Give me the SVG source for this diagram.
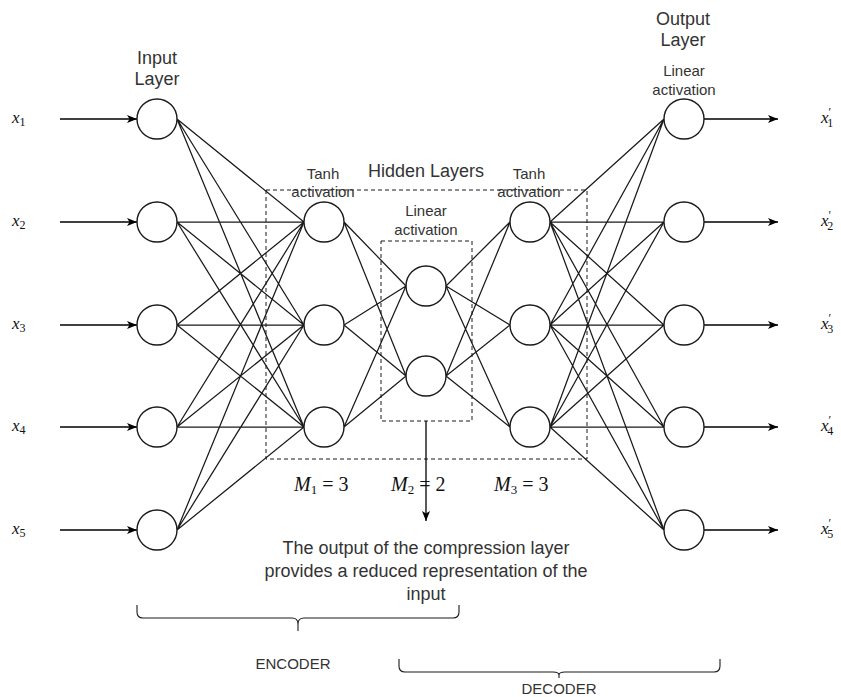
<svg xmlns="http://www.w3.org/2000/svg" width="841" height="697" viewBox="0 0 841 697">
  <style>
    .node { fill: #ffffff; stroke: #1a1a1a; stroke-width: 1.4; }
    .edge { stroke: #1a1a1a; stroke-width: 1.25; fill: none; }
    .io { stroke: #000; stroke-width: 1.3; fill: none; marker-end: url(#arrow); }
    .box { fill: none; stroke: #1a1a1a; stroke-width: 1; stroke-dasharray: 4 3; }
    .brace { fill: none; stroke: #1a1a1a; stroke-width: 1.1; }
    .lbl { font-family: "Liberation Sans", Arial, sans-serif; fill: #333; text-anchor: middle; }
    .big { font-size: 18px; }
    .small { font-size: 15px; }
    .note { font-size: 18px; }
    .part { font-size: 15px; }
    .math { font-family: "Liberation Serif", "Times New Roman", serif; fill: #111; }
    .it { font-style: italic; }
  </style>
  <defs>
    <marker id="arrow" viewBox="0 0 10 8" refX="10" refY="4" markerWidth="10" markerHeight="8" markerUnits="userSpaceOnUse" orient="auto">
      <path d="M0,0 L10,4 L0,8 L2.5,4 Z" fill="#000"/>
    </marker>
  </defs>

  <!-- layer boxes -->
  <g id="hidden-box">
    <rect class="box" x="266" y="190" width="321" height="269"/>
  </g>
  <g id="bottleneck-box">
    <rect class="box" x="381" y="241" width="91" height="180"/>
  </g>

  <!-- connectors -->
  <g id="connectors">
    <!-- inputs -->
    <line class="io" x1="60" y1="119" x2="137" y2="119"/>
    <line class="io" x1="60" y1="222" x2="137" y2="222"/>
    <line class="io" x1="60" y1="325" x2="137" y2="325"/>
    <line class="io" x1="60" y1="427" x2="137" y2="427"/>
    <line class="io" x1="60" y1="530" x2="137" y2="530"/>
    <!-- outputs -->
    <line class="io" x1="704" y1="119" x2="778" y2="119"/>
    <line class="io" x1="704" y1="222" x2="778" y2="222"/>
    <line class="io" x1="704" y1="325" x2="778" y2="325"/>
    <line class="io" x1="704" y1="427" x2="778" y2="427"/>
    <line class="io" x1="704" y1="530" x2="778" y2="530"/>
    <!-- bottleneck output -->
    <line class="io" x1="426" y1="421" x2="426" y2="521"/>

    <!-- input layer to first hidden layer -->
    <path class="edge" d="M177,119 L304,222 M177,119 L304,325 M177,119 L304,427
                          M177,222 L304,222 M177,222 L304,325 M177,222 L304,427
                          M177,325 L304,222 M177,325 L304,325 M177,325 L304,427
                          M177,427 L304,222 M177,427 L304,325 M177,427 L304,427
                          M177,530 L304,222 M177,530 L304,325 M177,530 L304,427"/>
    <!-- first hidden layer to bottleneck -->
    <path class="edge" d="M344,222 L406,286 M344,222 L406,376
                          M344,325 L406,286 M344,325 L406,376
                          M344,427 L406,286 M344,427 L406,376"/>
    <!-- bottleneck to third hidden layer -->
    <path class="edge" d="M446,286 L510,222 M446,286 L510,325 M446,286 L510,427
                          M446,376 L510,222 M446,376 L510,325 M446,376 L510,427"/>
    <!-- third hidden layer to output layer -->
    <path class="edge" d="M550,222 L664,119 M550,222 L664,222 M550,222 L664,325 M550,222 L664,427 M550,222 L664,530
                          M550,325 L664,119 M550,325 L664,222 M550,325 L664,325 M550,325 L664,427 M550,325 L664,530
                          M550,427 L664,119 M550,427 L664,222 M550,427 L664,325 M550,427 L664,427 M550,427 L664,530"/>
  </g>

  <!-- input layer -->
  <g id="in1"><circle class="node" cx="157" cy="119" r="20"/></g>
  <g id="in2"><circle class="node" cx="157" cy="222" r="20"/></g>
  <g id="in3"><circle class="node" cx="157" cy="325" r="20"/></g>
  <g id="in4"><circle class="node" cx="157" cy="427" r="20"/></g>
  <g id="in5"><circle class="node" cx="157" cy="530" r="20"/></g>

  <!-- hidden layer 1 -->
  <g id="h1a"><circle class="node" cx="324" cy="222" r="20"/></g>
  <g id="h1b"><circle class="node" cx="324" cy="325" r="20"/></g>
  <g id="h1c"><circle class="node" cx="324" cy="427" r="20"/></g>

  <!-- bottleneck -->
  <g id="h2a"><circle class="node" cx="426" cy="286" r="20"/></g>
  <g id="h2b"><circle class="node" cx="426" cy="376" r="20"/></g>

  <!-- hidden layer 3 -->
  <g id="h3a"><circle class="node" cx="530" cy="222" r="20"/></g>
  <g id="h3b"><circle class="node" cx="530" cy="325" r="20"/></g>
  <g id="h3c"><circle class="node" cx="530" cy="427" r="20"/></g>

  <!-- output layer -->
  <g id="out1"><circle class="node" cx="684" cy="119" r="20"/></g>
  <g id="out2"><circle class="node" cx="684" cy="222" r="20"/></g>
  <g id="out3"><circle class="node" cx="684" cy="325" r="20"/></g>
  <g id="out4"><circle class="node" cx="684" cy="427" r="20"/></g>
  <g id="out5"><circle class="node" cx="684" cy="530" r="20"/></g>

  <!-- layer titles -->
  <g id="labels">
    <text class="lbl big" x="157" y="64">Input</text>
    <text class="lbl big" x="157" y="85">Layer</text>
    <text class="lbl big" x="683" y="25">Output</text>
    <text class="lbl big" x="683" y="46">Layer</text>
    <text class="lbl small" x="684" y="76">Linear</text>
    <text class="lbl small" x="684" y="95">activation</text>
    <text class="lbl big" x="426" y="177">Hidden Layers</text>
    <text class="lbl small" x="323" y="179">Tanh</text>
    <text class="lbl small" x="323" y="197">activation</text>
    <text class="lbl small" x="529" y="179">Tanh</text>
    <text class="lbl small" x="529" y="197">activation</text>
    <text class="lbl small" x="426" y="216">Linear</text>
    <text class="lbl small" x="426" y="235">activation</text>

    <text class="lbl note" x="426" y="554">The output of the compression layer</text>
    <text class="lbl note" x="426" y="577">provides a reduced representation of the</text>
    <text class="lbl note" x="426" y="600">input</text>

    <text class="lbl part" x="293" y="669">ENCODER</text>
    <text class="lbl part" x="559" y="694">DECODER</text>
  </g>

  <!-- layer sizes -->
  <g id="sizes" class="math" font-size="20">
    <text x="294" y="491"><tspan class="it">M</tspan><tspan font-size="13" dy="3">1</tspan><tspan dy="-3"> = 3</tspan></text>
    <text x="391" y="491"><tspan class="it">M</tspan><tspan font-size="13" dy="3">2</tspan><tspan dy="-3"> = 2</tspan></text>
    <text x="494" y="491"><tspan class="it">M</tspan><tspan font-size="13" dy="3">3</tspan><tspan dy="-3"> = 3</tspan></text>
  </g>

  <!-- input symbols -->
  <g id="inputs" class="math" font-size="17">
    <text x="12" y="123"><tspan class="it">x</tspan><tspan font-size="12" dy="3">1</tspan></text>
    <text x="12" y="226"><tspan class="it">x</tspan><tspan font-size="12" dy="3">2</tspan></text>
    <text x="12" y="329"><tspan class="it">x</tspan><tspan font-size="12" dy="3">3</tspan></text>
    <text x="12" y="431"><tspan class="it">x</tspan><tspan font-size="12" dy="3">4</tspan></text>
    <text x="12" y="534"><tspan class="it">x</tspan><tspan font-size="12" dy="3">5</tspan></text>
  </g>

  <!-- reconstructed symbols: prime stacked over the subscript -->
  <g id="outputs" class="math" font-size="17">
    <text x="821" y="123"><tspan class="it">x</tspan><tspan font-size="12" dy="-7">′</tspan><tspan font-size="12" dx="-4" dy="11">1</tspan></text>
    <text x="821" y="226"><tspan class="it">x</tspan><tspan font-size="12" dy="-7">′</tspan><tspan font-size="12" dx="-4" dy="11">2</tspan></text>
    <text x="821" y="329"><tspan class="it">x</tspan><tspan font-size="12" dy="-7">′</tspan><tspan font-size="12" dx="-4" dy="11">3</tspan></text>
    <text x="821" y="431"><tspan class="it">x</tspan><tspan font-size="12" dy="-7">′</tspan><tspan font-size="12" dx="-4" dy="11">4</tspan></text>
    <text x="821" y="534"><tspan class="it">x</tspan><tspan font-size="12" dy="-7">′</tspan><tspan font-size="12" dx="-4" dy="11">5</tspan></text>
  </g>

  <!-- encoder / decoder braces -->
  <g id="encoder-brace">
    <path class="brace" d="M137,605 L137,612 Q137,618 143,618 L292,618 Q298,618 298,624 L298,631 M298,624 Q298,618 304,618 L453,618 Q459,618 459,612 L459,605"/>
  </g>
  <g id="decoder-brace">
    <path class="brace" d="M399,659 L399,666 Q399,672 405,672 L553,672 Q559,672 559,675 L559,678 M559,675 Q559,672 565,672 L714,672 Q720,672 720,666 L720,659"/>
  </g>
</svg>
